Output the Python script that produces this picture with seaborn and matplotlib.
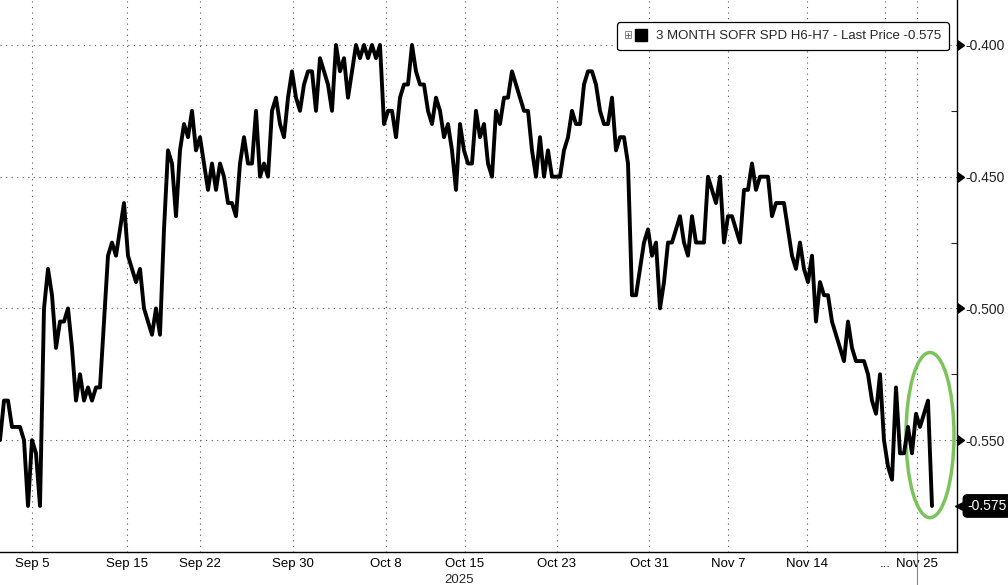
import numpy as np
import pandas as pd
import seaborn as sns
import matplotlib.pyplot as plt
from matplotlib.patches import Rectangle, Ellipse, Patch
from matplotlib.lines import Line2D
from matplotlib.legend_handler import HandlerBase
import matplotlib.markers as mk

# 3M SOFR spread H6-H7 (one sample every 4 px of the original)
spread_sep = [-0.550, -0.535, -0.535, -0.545, -0.545, -0.545, -0.550, -0.575, -0.550, -0.555,
              -0.575, -0.500, -0.485, -0.495, -0.515, -0.505, -0.505, -0.500, -0.515, -0.535,
              -0.525, -0.535, -0.530, -0.535, -0.530, -0.530, -0.505, -0.480, -0.475, -0.480,
              -0.470, -0.460, -0.480, -0.485, -0.490, -0.485, -0.500, -0.505, -0.510, -0.500,
              -0.510, -0.470, -0.440, -0.445, -0.465, -0.440, -0.430, -0.435, -0.425, -0.440,
              -0.435, -0.445, -0.455, -0.445, -0.455, -0.445, -0.450, -0.460, -0.460, -0.465,
              -0.445, -0.435, -0.445, -0.445, -0.425, -0.450, -0.445, -0.450, -0.425, -0.420,
              -0.430, -0.435, -0.420, -0.410, -0.420, -0.425, -0.415, -0.410]
spread_oct = [-0.410, -0.425, -0.405, -0.410, -0.415, -0.425, -0.400, -0.410, -0.405, -0.420,
              -0.410, -0.400, -0.405, -0.400, -0.405, -0.400, -0.405, -0.400, -0.430, -0.425,
              -0.425, -0.435, -0.420, -0.415, -0.415, -0.400, -0.410, -0.415, -0.415, -0.425,
              -0.430, -0.420, -0.425, -0.435, -0.430, -0.440, -0.455, -0.430, -0.440, -0.445,
              -0.445, -0.425, -0.435, -0.430, -0.445, -0.450, -0.425, -0.430, -0.420, -0.420,
              -0.410, -0.415, -0.420, -0.425, -0.425, -0.440, -0.450, -0.435, -0.450, -0.440,
              -0.450, -0.450, -0.450, -0.440, -0.435, -0.425, -0.430, -0.430, -0.415, -0.410,
              -0.410, -0.415, -0.425, -0.430, -0.430, -0.420, -0.440, -0.435, -0.435, -0.445,
              -0.495, -0.495, -0.485, -0.475, -0.470, -0.480, -0.475, -0.500]
spread_nov = [-0.490, -0.475, -0.475, -0.470, -0.465, -0.475, -0.480, -0.465, -0.475, -0.475,
              -0.475, -0.450, -0.455, -0.460, -0.450, -0.475, -0.465, -0.465, -0.470, -0.475,
              -0.455, -0.455, -0.445, -0.455, -0.450, -0.450, -0.450, -0.465, -0.460, -0.460,
              -0.460, -0.470, -0.480, -0.485, -0.475, -0.485, -0.490, -0.480, -0.505, -0.490,
              -0.495, -0.495, -0.505, -0.510, -0.515, -0.520, -0.505, -0.515, -0.520, -0.520,
              -0.520, -0.525, -0.535, -0.540, -0.525, -0.550, -0.560, -0.565, -0.530, -0.555,
              -0.555, -0.545, -0.555, -0.540, -0.545, -0.540, -0.535, -0.575]
last_price = -0.575
series_label = '3 MONTH SOFR SPD H6-H7 - Last Price -0.575'

# x axis labels and their position in samples
tick_labels = ['Sep 5', 'Sep 15', 'Sep 22', 'Sep 30', 'Oct 8', 'Oct 15', 'Oct 23',
               'Oct 31', 'Nov 7', 'Nov 14', '...', 'Nov 25']
tick_pos = [8.1, 31.7, 50.0, 73.2, 96.5, 116.2, 139.2, 162.3, 182.0, 201.7, 221.3, 229.2]
days_between = [6, 5, 6, 6, 5, 6, 6, 5, 5, 5, 2]
y_ticks = [-0.550, -0.500, -0.450, -0.400]

values = spread_sep + spread_oct + spread_nov
df = pd.DataFrame({'idx': np.arange(len(values)), 'spread': values})

sns.set_style('white')
plt.rcParams['font.family'] = ['Liberation Sans', 'DejaVu Sans']

fig = plt.figure(figsize=(10.08, 5.85), dpi=100)
ax = fig.add_axes([0.0, 0.0564, 0.9494, 0.9436])

sns.lineplot(data=df, x='idx', y='spread', color='black', lw=2.8, sort=False,
             errorbar=None, ax=ax, legend=False, solid_joinstyle='round')

ax.set_xlim(0, 957 / 4)
ax.set_ylim(-0.59248, -0.38292)

# spines
for s in ['top', 'left']:
    ax.spines[s].set_visible(False)
for s in ['bottom', 'right']:
    ax.spines[s].set_color('black')
    ax.spines[s].set_linewidth(1.0)

# x ticks: labelled dates plus one small tick per trading day
minor = [tick_pos[0] - k * (tick_pos[1] - tick_pos[0]) / days_between[0] for k in (1, 2)]
for a, b, n in zip(tick_pos[:-1], tick_pos[1:], days_between):
    minor += [a + (b - a) * k / n for k in range(1, n)]
ax.set_xticks(tick_pos)
ax.set_xticklabels(tick_labels)
ax.set_xticks(minor, minor=True)
ax.tick_params(axis='x', which='both', direction='out', length=4, width=0.8,
               labelsize=9.5, pad=0.5, colors='black')

# y ticks on the right with caret markers
ax.set_xlabel('')
ax.set_ylabel('')
ax.yaxis.tick_right()
ax.set_yticks(y_ticks)
ax.set_yticklabels([f'{v:.3f}' for v in y_ticks])
ax.set_yticks([-0.525, -0.475, -0.425], minor=True)
ax.tick_params(axis='y', which='major', length=0, pad=6, labelsize=10, labelcolor='#222222')
ax.tick_params(axis='y', which='minor', direction='in', length=4, width=0.8)
ax.plot([1.0] * len(y_ticks), y_ticks, ls='none', marker=mk.CARETRIGHTBASE, ms=7,
        color='black', transform=ax.get_yaxis_transform(), clip_on=False)

# dotted grid
ax.grid(True, which='major', axis='both', color='#555555', lw=0.8, ls=(0, (1, 4)))

# year under the axis and the "today" line
ax.annotate('2025', xy=(tick_pos[5], 0), xycoords=ax.get_xaxis_transform(),
            xytext=(-4, -15.5), textcoords='offset points', ha='center', va='top', fontsize=9.5)
ax.plot([tick_pos[-1]] * 2, [0, -0.07], color='#888888', lw=0.8,
        transform=ax.get_xaxis_transform(), clip_on=False)

# last price tag
ax.annotate(f'{last_price:.3f}', xy=(1.0, last_price), xycoords=ax.get_yaxis_transform(),
            xytext=(7.5, 0), textcoords='offset points', ha='left', va='center',
            color='white', fontsize=10,
            bbox=dict(boxstyle='round,pad=0.3', fc='black', ec='black'))
ax.plot([1.0045], [last_price], ls='none', marker='<', ms=8, color='black',
        transform=ax.get_yaxis_transform(), clip_on=False)

# green ellipse around the last move
ax.add_patch(Ellipse((232.5, -0.5481), width=12, height=0.0627, fill=False,
                     ec='#7dc35b', lw=2.5, clip_on=False))


class IconHandler(HandlerBase):
    def create_artists(self, legend, orig_handle, xdescent, ydescent, width, height,
                       fontsize, trans):
        x0, y0, h = -xdescent, -ydescent, height
        s = h * 0.7
        sy = y0 + (h - s) / 2
        box = Rectangle((x0, sy), s, s, fc='white', ec='#777777', lw=0.6, transform=trans)
        hl = Line2D([x0 + s * 0.2, x0 + s * 0.8], [sy + s / 2] * 2, color='#555555',
                    lw=0.6, transform=trans)
        vl = Line2D([x0 + s / 2] * 2, [sy + s * 0.2, sy + s * 0.8], color='#555555',
                    lw=0.6, transform=trans)
        sq = Rectangle((x0 + s + h * 0.4, y0 - h * 0.15), h * 1.3, h * 1.3,
                       fc='black', ec='black', transform=trans)
        return [box, hl, vl, sq]


proxy = Patch(fc='black')
leg = ax.legend(handles=[proxy], labels=[series_label], handler_map={proxy: IconHandler()},
                loc='upper right', bbox_to_anchor=(0.9916, 0.960), borderaxespad=0,
                fontsize=9.5, handlelength=1.9, handletextpad=0.45, borderpad=0.6,
                fancybox=True, framealpha=1, edgecolor='black')
leg.get_frame().set_linewidth(0.9)

fig.savefig('out.png', dpi=100)
